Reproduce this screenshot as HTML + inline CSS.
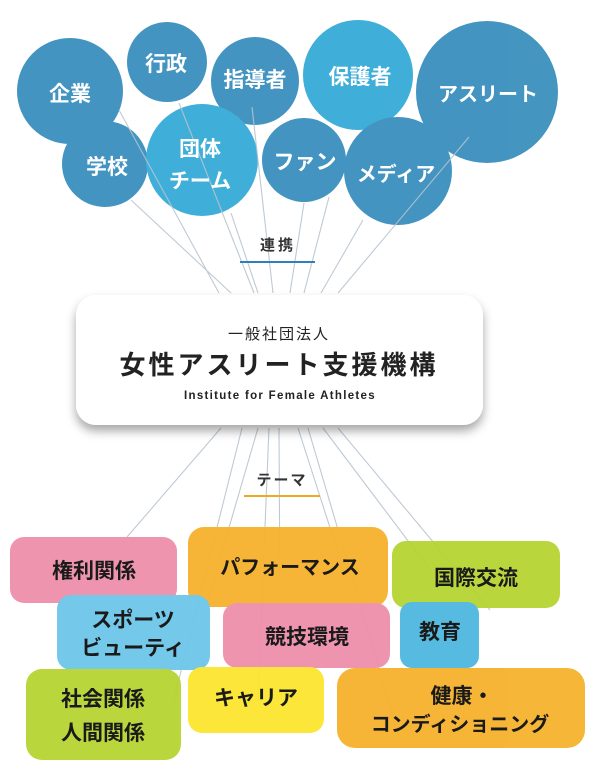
<!DOCTYPE html>
<html><head><meta charset="utf-8"><style>
html,body{margin:0;padding:0;background:#fff;}
svg{display:block;font-family:"Liberation Sans","Noto Sans CJK JP",sans-serif;}
</style></head><body>
<svg width="601" height="772" viewBox="0 0 601 772" xmlns="http://www.w3.org/2000/svg">
<defs>
<filter id="sh" x="-10%" y="-10%" width="120%" height="140%"><feDropShadow dx="0" dy="6" stdDeviation="5" flood-color="#000" flood-opacity="0.35"/></filter>
</defs>
<g opacity="0.95">
<circle cx="70" cy="91" r="53" fill="#3b8fbe"/>
<circle cx="167" cy="62" r="40" fill="#3b8fbe"/>
<circle cx="255" cy="81" r="44" fill="#3b8fbe"/>
<circle cx="358" cy="75" r="55" fill="#35abd8"/>
<circle cx="487" cy="92" r="71" fill="#3b8fbe"/>
<circle cx="105" cy="164" r="43" fill="#3b8fbe"/>
<circle cx="202" cy="160" r="56" fill="#35abd8"/>
<circle cx="304" cy="160" r="42" fill="#3b8fbe"/>
<circle cx="398" cy="171" r="54" fill="#3b8fbe"/>
</g>
<g stroke="#b8c4cf" stroke-width="1.1" opacity="0.9">
<line x1="119" y1="110" x2="219" y2="293"/>
<line x1="131" y1="200" x2="231" y2="293"/>
<line x1="179" y1="103" x2="254" y2="293"/>
<line x1="231" y1="213" x2="258" y2="293"/>
<line x1="252" y1="107" x2="273" y2="293"/>
<line x1="304" y1="203" x2="290" y2="293"/>
<line x1="329" y1="197" x2="304" y2="293"/>
<line x1="363" y1="220" x2="321" y2="293"/>
<line x1="469" y1="137" x2="338" y2="293"/>
<line x1="221" y1="428" x2="127" y2="537"/>
<line x1="242" y1="428" x2="173" y2="703"/>
<line x1="258" y1="428" x2="205" y2="610"/>
<line x1="269" y1="428" x2="258" y2="700"/>
<line x1="279" y1="428" x2="280" y2="610"/>
<line x1="298" y1="428" x2="350" y2="590"/>
<line x1="308" y1="428" x2="400" y2="740"/>
<line x1="323" y1="428" x2="430" y2="570"/>
<line x1="338" y1="428" x2="490" y2="610"/>
</g>
<g fill="#fff" font-size="21" font-weight="bold" text-anchor="middle">
<text x="70" y="101">企業</text>
<text x="166" y="71">行政</text>
<text x="255" y="87">指導者</text>
<text x="360" y="84">保護者</text>
<text x="488" y="101" font-size="20">アスリート</text>
<text x="107" y="174">学校</text>
<text x="200" y="156">団体</text>
<text x="200" y="188">チーム</text>
<text x="305" y="169">ファン</text>
<text x="396" y="181" font-size="20">メディア</text>
</g>
<text x="278" y="250" font-size="15" font-weight="bold" fill="#333" text-anchor="middle" letter-spacing="3">連携</text>
<line x1="240" y1="262" x2="315" y2="262" stroke="#2f80b8" stroke-width="2"/>
<rect x="76" y="295" width="407" height="130" rx="20" fill="#fff" filter="url(#sh)"/>
<g fill="#222" text-anchor="middle">
<text x="279" y="339" font-size="15" letter-spacing="2">一般社団法人</text>
<text x="279" y="374" font-size="26" font-weight="bold" letter-spacing="3">女性アスリート支援機構</text>
<text x="280" y="399" font-size="11.5" font-weight="bold" letter-spacing="1.3">Institute for Female Athletes</text>
</g>
<text x="282" y="485" font-size="15" font-weight="bold" fill="#333" text-anchor="middle" letter-spacing="2">テーマ</text>
<line x1="244" y1="496" x2="320" y2="496" stroke="#f0a820" stroke-width="2"/>
<g opacity="0.95">
<rect x="10" y="537" width="167" height="66" rx="14" fill="#ef8fab"/>
<rect x="188" y="527" width="200" height="80" rx="16" fill="#f6b22d"/>
<rect x="392" y="541" width="168" height="67" rx="14" fill="#b6d433"/>
<rect x="57" y="595" width="153" height="75" rx="14" fill="#6dc7e9"/>
<rect x="223" y="603" width="167" height="65" rx="14" fill="#ef8fab"/>
<rect x="400" y="602" width="79" height="66" rx="12" fill="#4fb7e0"/>
<rect x="26" y="669" width="155" height="91" rx="16" fill="#b6d433"/>
<rect x="188" y="667" width="136" height="66" rx="14" fill="#fbe52f"/>
<rect x="337" y="668" width="248" height="80" rx="18" fill="#f6b22d"/>
</g>
<g fill="#1a1a1a" font-size="21" font-weight="bold" text-anchor="middle">
<text x="94" y="578">権利関係</text>
<text x="290" y="574" font-size="20">パフォーマンス</text>
<text x="476" y="585">国際交流</text>
<text x="133" y="627">スポーツ</text>
<text x="133" y="655">ビューティ</text>
<text x="307" y="644">競技環境</text>
<text x="440" y="639">教育</text>
<text x="103" y="706">社会関係</text>
<text x="103" y="740">人間関係</text>
<text x="256" y="705">キャリア</text>
<text x="462" y="703">健康・</text>
<text x="460" y="731" font-size="20">コンディショニング</text>
</g>
</svg>
</body></html>
